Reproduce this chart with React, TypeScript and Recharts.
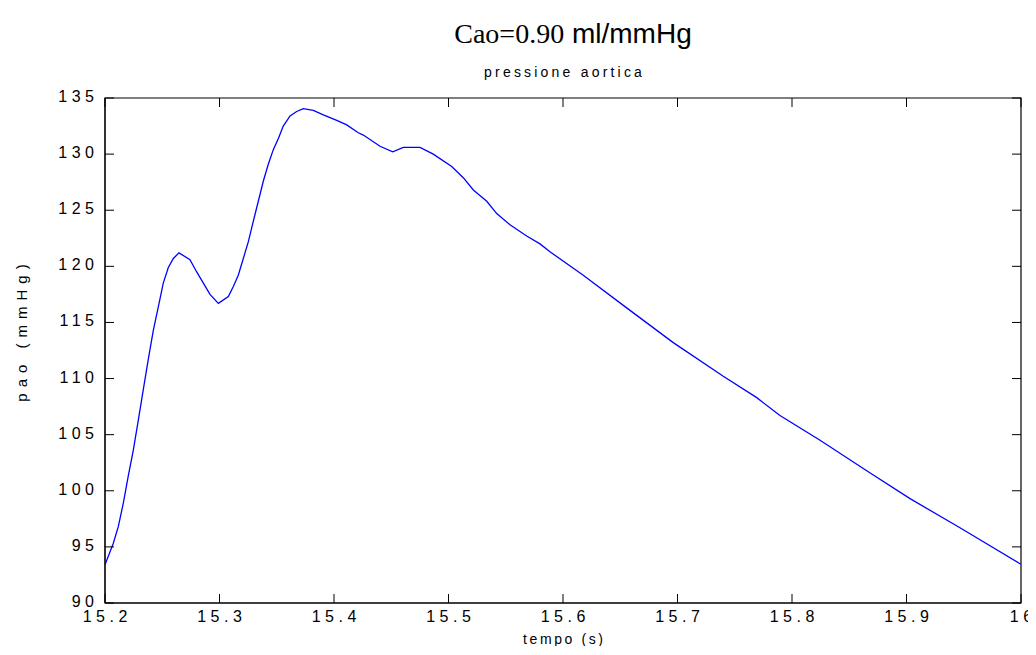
import React from "react";
import { LineChart, Line, XAxis, YAxis, ReferenceArea } from "recharts";

const timeS: number[] = [
  15.2, 15.2072, 15.2116, 15.216, 15.2203, 15.2247, 15.2291, 15.2334, 15.2378, 15.2422,
  15.2466, 15.2509, 15.2553, 15.2597, 15.2646, 15.2742, 15.2801, 15.2859, 15.2917, 15.299,
  15.3077, 15.3121, 15.3164, 15.3208, 15.3252, 15.3295, 15.3339, 15.3383, 15.3426, 15.347,
  15.3514, 15.3557, 15.3616, 15.3674, 15.3732, 15.3819, 15.3907, 15.4024, 15.4111, 15.4212,
  15.4256, 15.4402, 15.4513, 15.4605, 15.4751, 15.4867, 15.5028, 15.5129, 15.5217, 15.5334,
  15.5421, 15.5537, 15.5683, 15.5799, 15.5886, 15.6177, 15.6556, 15.6963, 15.74, 15.7692,
  15.7895, 15.8245, 15.8666, 15.9031, 15.9467, 15.9991, 16.0,
];

const paoMmHg: number[] = [
  93.4, 95.3, 96.8, 98.9, 101.3, 103.6, 106.3, 109.0, 111.7, 114.3,
  116.4, 118.5, 119.9, 120.7, 121.2, 120.6, 119.5, 118.5, 117.5, 116.7,
  117.3, 118.2, 119.2, 120.7, 122.2, 124.0, 125.8, 127.6, 129.1, 130.4,
  131.4, 132.5, 133.4, 133.8, 134.05, 133.9, 133.5, 133.0, 132.6, 131.9,
  131.7, 130.7, 130.2, 130.6, 130.6, 130.0, 128.9, 127.9, 126.8, 125.8,
  124.7, 123.7, 122.7, 122.0, 121.3, 119.2, 116.3, 113.2, 110.2, 108.3,
  106.7, 104.5, 101.7, 99.3, 96.7, 93.5, 93.45,
];

const xTicks: number[] = [15.2, 15.3, 15.4, 15.5, 15.6, 15.7, 15.8, 15.9, 16];
const yTicks: number[] = [90, 95, 100, 105, 110, 115, 120, 125, 130, 135];

const titleMain = "Cao=0.90";
const titleUnit = " ml/mmHg";
const subTitle = "pressione aortica";
const xLabel = "tempo (s)";
const yLabel = "pao (mmHg)";

const data = timeS.map((t, i) => ({ t, pao: paoMmHg[i] }));

const SANS = "'Liberation Sans', Arial, sans-serif";
const SERIF = "'Liberation Serif', 'Times New Roman', serif";
const TICK_LEN = 9;
const LS = 4.5;

const W = 1028;
const H = 638;
const M = { top: 90, right: 15, left: 37, bottom: 13 };
const Y_AXIS_W = 60;
const X_AXIS_H = 30;
const PLOT_W = W - M.left - M.right - Y_AXIS_W;
const PLOT_H = H - M.top - M.bottom - X_AXIS_H;

const fmtX = (v: number) => String(Number(v.toFixed(1)));

const BottomTick = (props: any) => {
  const { x, y, payload } = props;
  return (
    <g>
      <line x1={x} y1={y} x2={x} y2={y - TICK_LEN} stroke="#000" strokeWidth={1} />
      <line x1={x} y1={y - PLOT_H} x2={x} y2={y - PLOT_H + TICK_LEN} stroke="#000" strokeWidth={1} />
      <text x={x + LS / 2} y={y + 19} textAnchor="middle" fontFamily={SANS} fontSize={16} letterSpacing={LS} fill="#000">
        {fmtX(payload.value)}
      </text>
    </g>
  );
};

const LeftTick = (props: any) => {
  const { x, y, payload } = props;
  return (
    <g>
      <line x1={x} y1={y} x2={x + TICK_LEN} y2={y} stroke="#000" strokeWidth={1} />
      <line x1={x + PLOT_W} y1={y} x2={x + PLOT_W - TICK_LEN} y2={y} stroke="#000" strokeWidth={1} />
      <text x={x - 11 + LS} y={y + 4} textAnchor="end" fontFamily={SANS} fontSize={16} letterSpacing={LS} fill="#000">
        {String(payload.value)}
      </text>
    </g>
  );
};

export default function App() {
  return (
    <div style={{ position: "relative", width: 1020, height: H }}>
      <LineChart width={W} height={H} data={data} margin={M}>
        <XAxis
          xAxisId="bottom"
          dataKey="t"
          type="number"
          domain={[15.2, 16]}
          ticks={xTicks}
          allowDataOverflow
          height={X_AXIS_H}
          tickSize={0}
          tickMargin={0}
          tickLine={false}
          axisLine={{ stroke: "#000", strokeWidth: 1 }}
          tick={<BottomTick />}
          interval={0}
        />
        <YAxis
          yAxisId="left"
          type="number"
          domain={[90, 135]}
          ticks={yTicks}
          allowDataOverflow
          width={Y_AXIS_W}
          tickSize={0}
          tickMargin={0}
          tickLine={false}
          axisLine={{ stroke: "#000", strokeWidth: 1 }}
          tick={<LeftTick />}
          interval={0}
        />
        <ReferenceArea
          xAxisId="bottom"
          yAxisId="left"
          x1={15.2}
          x2={16}
          y1={90}
          y2={135}
          fill="none"
          fillOpacity={0}
          stroke="#000"
          strokeWidth={1.2}
          strokeOpacity={1}
          ifOverflow="visible"
        />
        <Line
          xAxisId="bottom"
          yAxisId="left"
          type="linear"
          dataKey="pao"
          stroke="#0000ff"
          strokeWidth={1.3}
          dot={false}
          activeDot={false}
          isAnimationActive={false}
        />
      </LineChart>
      <svg
        width={W}
        height={H}
        style={{ position: "absolute", left: 0, top: 0, pointerEvents: "none" }}
      >
        <text x={565} y={35} textAnchor="middle" fontSize={28} fill="#000">
          <tspan fontFamily={SERIF}>{titleMain}</tspan>
          <tspan fontFamily={SANS}>{titleUnit}</tspan>
        </text>
        <text x={555 + 1.6} y={69} textAnchor="middle" fontFamily={SANS} fontSize={14} letterSpacing={3.2} fill="#000">
          {subTitle}
        </text>
        <text x={555 + 1.3} y={636} textAnchor="middle" fontFamily={SANS} fontSize={14} letterSpacing={2.6} fill="#000">
          {xLabel}
        </text>
        <text
          x={0}
          y={0}
          transform="translate(19,322) rotate(-90)"
          textAnchor="middle"
          fontFamily={SANS}
          fontSize={15}
          letterSpacing={6}
          fill="#000"
        >
          {yLabel}
        </text>
      </svg>
    </div>
  );
}
